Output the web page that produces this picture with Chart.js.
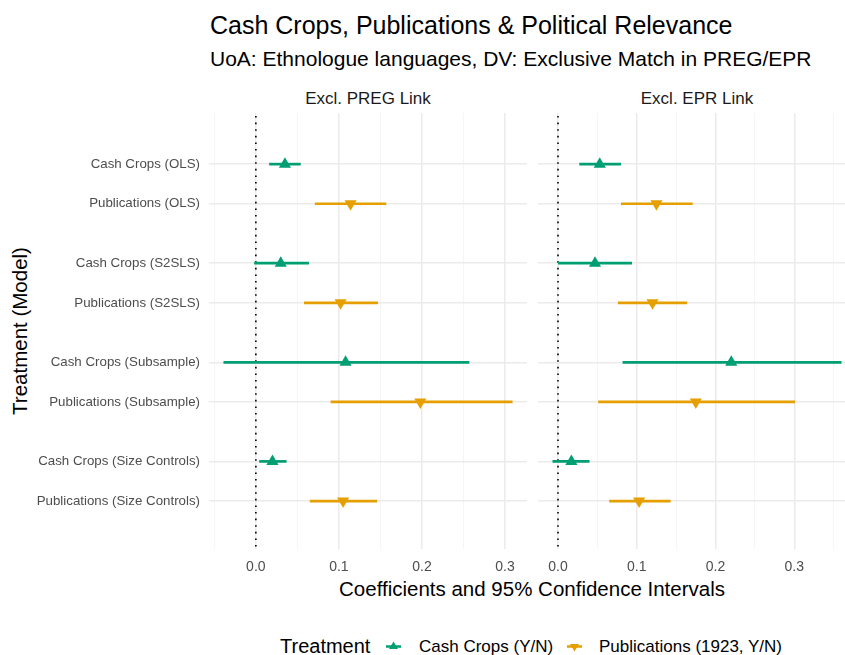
<!DOCTYPE html>
<html>
<head>
<meta charset="utf-8">
<script src="https://cdn.jsdelivr.net/npm/chart.js@4.4.1/dist/chart.umd.min.js"></script>
<style>
  html, body { margin: 0; padding: 0; background: #fff; }
  body { width: 845px; height: 655px; position: relative; overflow: hidden;
         font-family: "Liberation Sans", Arial, Helvetica, sans-serif; color: #000; }
  .txt { position: absolute; line-height: 1; white-space: nowrap; }
  .panel { position: absolute; top: 113px; height: 466px; }
</style>
</head>
<body>
<div class="txt" style="left:210px; top:25px; font-size:25px; transform:translateY(-50%);">Cash Crops, Publications &amp; Political Relevance</div>
<div class="txt" style="left:210px; top:58px; font-size:21px; transform:translateY(-50%);">UoA: Ethnologue languages, DV: Exclusive Match in PREG/EPR</div>
<div class="txt" style="left:368px; top:98px; font-size:17px; color:#1a1a1a; transform:translate(-50%,-50%);">Excl. PREG Link</div>
<div class="txt" style="left:697px; top:98px; font-size:17px; color:#1a1a1a; transform:translate(-50%,-50%);">Excl. EPR Link</div>
<div class="txt" style="left:20px; top:331px; font-size:20.5px; transform:translate(-50%,-50%) rotate(-90deg);">Treatment (Model)</div>
<div class="txt" style="left:532px; top:589px; font-size:20.5px; transform:translate(-50%,-50%);">Coefficients and 95% Confidence Intervals</div>

<div class="txt" style="left:280px; top:646px; font-size:20px; transform:translateY(-50%);">Treatment</div>
<svg style="position:absolute; left:385px; top:638px;" width="17" height="17">
  <line x1="1" y1="8.5" x2="16" y2="8.5" stroke="#009E73" stroke-width="2.5"/>
  <polygon points="8.5,3.5 13,11 4,11" fill="#009E73"/>
</svg>
<div class="txt" style="left:419px; top:646px; font-size:17px; transform:translateY(-50%);">Cash Crops (Y/N)</div>
<svg style="position:absolute; left:566px; top:638px;" width="17" height="17">
  <line x1="1" y1="8.5" x2="16" y2="8.5" stroke="#E69F00" stroke-width="2.5"/>
  <polygon points="8.5,13.5 13,6 4,6" fill="#E69F00"/>
</svg>
<div class="txt" style="left:599px; top:646px; font-size:17px; transform:translateY(-50%);">Publications (1923, Y/N)</div>

<div class="panel" style="left:0px; width:527px;"><canvas id="preg" width="527" height="466"></canvas></div>
<div class="panel" style="left:538px; width:318px;"><canvas id="epr" width="318" height="466"></canvas></div>

<script>
// rows (top to bottom) and their positions on the y axis
const rowLabels = ['Cash Crops (OLS)', 'Publications (OLS)', 'Cash Crops (S2SLS)', 'Publications (S2SLS)',
                   'Cash Crops (Subsample)', 'Publications (Subsample)', 'Cash Crops (Size Controls)', 'Publications (Size Controls)'];
const rowPos = [1, 2, 3.5, 4.5, 6, 7, 8.5, 9.5];
const rowTreatment = ['cash', 'pub', 'cash', 'pub', 'cash', 'pub', 'cash', 'pub'];

// Excl. PREG Link panel
const pregEst  = [0.035, 0.114, 0.030, 0.102, 0.108, 0.198, 0.020, 0.105];
const pregLow  = [0.016, 0.071, -0.002, 0.058, -0.039, 0.090, 0.004, 0.065];
const pregHigh = [0.054, 0.157, 0.064, 0.147, 0.257, 0.309, 0.037, 0.146];

// Excl. EPR Link panel
const eprEst  = [0.053, 0.125, 0.047, 0.120, 0.220, 0.175, 0.017, 0.103];
const eprLow  = [0.027, 0.080, 0.000, 0.076, 0.082, 0.051, -0.007, 0.065];
const eprHigh = [0.080, 0.171, 0.094, 0.164, 0.360, 0.301, 0.040, 0.143];

// x ticks (labels every 0.1, minor grid at 0.05)
const pregTicks = [-0.05, 0, 0.05, 0.1, 0.15, 0.2, 0.25, 0.3];
const eprTicks = [0, 0.05, 0.1, 0.15, 0.2, 0.25, 0.3, 0.35];

const colors = { cash: '#009E73', pub: '#E69F00' };
const FONT = '"Liberation Sans", Arial, Helvetica, sans-serif';

const isMajor = v => Math.abs(Math.round(v * 10) - v * 10) < 1e-6;

// no extra padding around the panel, so the plot area is the full canvas minus the axes
function noPad(ax) {
    ax.paddingLeft = 0;
    ax.paddingRight = 0;
    ax.paddingTop = 0;
    ax.paddingBottom = 0;
}

// dotted line at zero
const zeroLine = {
    id: 'zeroLine',
    beforeDatasetsDraw(chart) {
        const x = chart.scales.x.getPixelForValue(0);
        const { top, bottom } = chart.chartArea;
        const c = chart.ctx;
        c.save();
        c.strokeStyle = '#000';
        c.lineWidth = 1.6;
        c.setLineDash([1.6, 5]);
        c.beginPath();
        c.moveTo(x, top + 3);
        c.lineTo(x, bottom);
        c.stroke();
        c.restore();
    }
};

function makePanel(id, est, low, high, ticks, xMin, xMax, showLabels) {
    const datasets = [];
    // confidence intervals
    rowPos.forEach((y, i) => {
        datasets.push({
            data: [{ x: low[i], y: y }, { x: high[i], y: y }],
            showLine: true,
            borderColor: colors[rowTreatment[i]],
            borderWidth: 2.7,
            pointRadius: 0
        });
    });
    // point estimates
    ['cash', 'pub'].forEach(t => {
        datasets.push({
            data: rowPos.map((y, i) => ({ x: est[i], y: y })).filter((p, i) => rowTreatment[i] === t),
            pointStyle: 'triangle',
            pointRotation: t === 'cash' ? 0 : 180,
            pointRadius: 7,
            backgroundColor: colors[t],
            borderColor: colors[t],
            pointBorderWidth: 0
        });
    });

    new Chart(document.getElementById(id), {
        type: 'scatter',
        data: { datasets: datasets },
        plugins: [zeroLine],
        options: {
            responsive: false,
            animation: false,
            layout: { padding: 0, autoPadding: false },
            plugins: { legend: { display: false }, tooltip: { enabled: false } },
            scales: {
                x: {
                    type: 'linear',
                    min: xMin,
                    max: xMax,
                    afterBuildTicks: ax => { ax.ticks = ticks.map(v => ({ value: v })); },
                    afterFit: ax => { ax.height = 30; noPad(ax); },
                    border: { display: false },
                    grid: {
                        drawTicks: false,
                        color: ctx => isMajor(ctx.tick.value) ? '#ebebeb' : '#f4f4f4',
                        lineWidth: ctx => isMajor(ctx.tick.value) ? 1.5 : 0.9
                    },
                    ticks: {
                        autoSkip: false,
                        maxRotation: 0,
                        padding: 10,
                        color: '#4d4d4d',
                        font: { family: FONT, size: 14 },
                        callback: v => isMajor(v) ? v.toFixed(1) : ''
                    }
                },
                y: {
                    type: 'linear',
                    reverse: true,
                    min: -0.29,
                    max: 10.71,
                    afterBuildTicks: ax => { ax.ticks = rowPos.map(v => ({ value: v })); },
                    afterFit: ax => { ax.width = showLabels ? 209 : 0; noPad(ax); },
                    border: { display: false },
                    grid: { drawTicks: false, color: '#ebebeb', lineWidth: 1.5 },
                    ticks: {
                        display: showLabels,
                        autoSkip: false,
                        padding: 9,
                        color: '#4d4d4d',
                        font: { family: FONT, size: 13.3 },
                        callback: v => rowLabels[rowPos.indexOf(v)]
                    }
                }
            }
        }
    });
}

makePanel('preg', pregEst, pregLow, pregHigh, pregTicks, -0.0564, 0.3264, true);
makePanel('epr', eprEst, eprLow, eprHigh, eprTicks, -0.0254, 0.3784, false);
</script>
</body>
</html>
